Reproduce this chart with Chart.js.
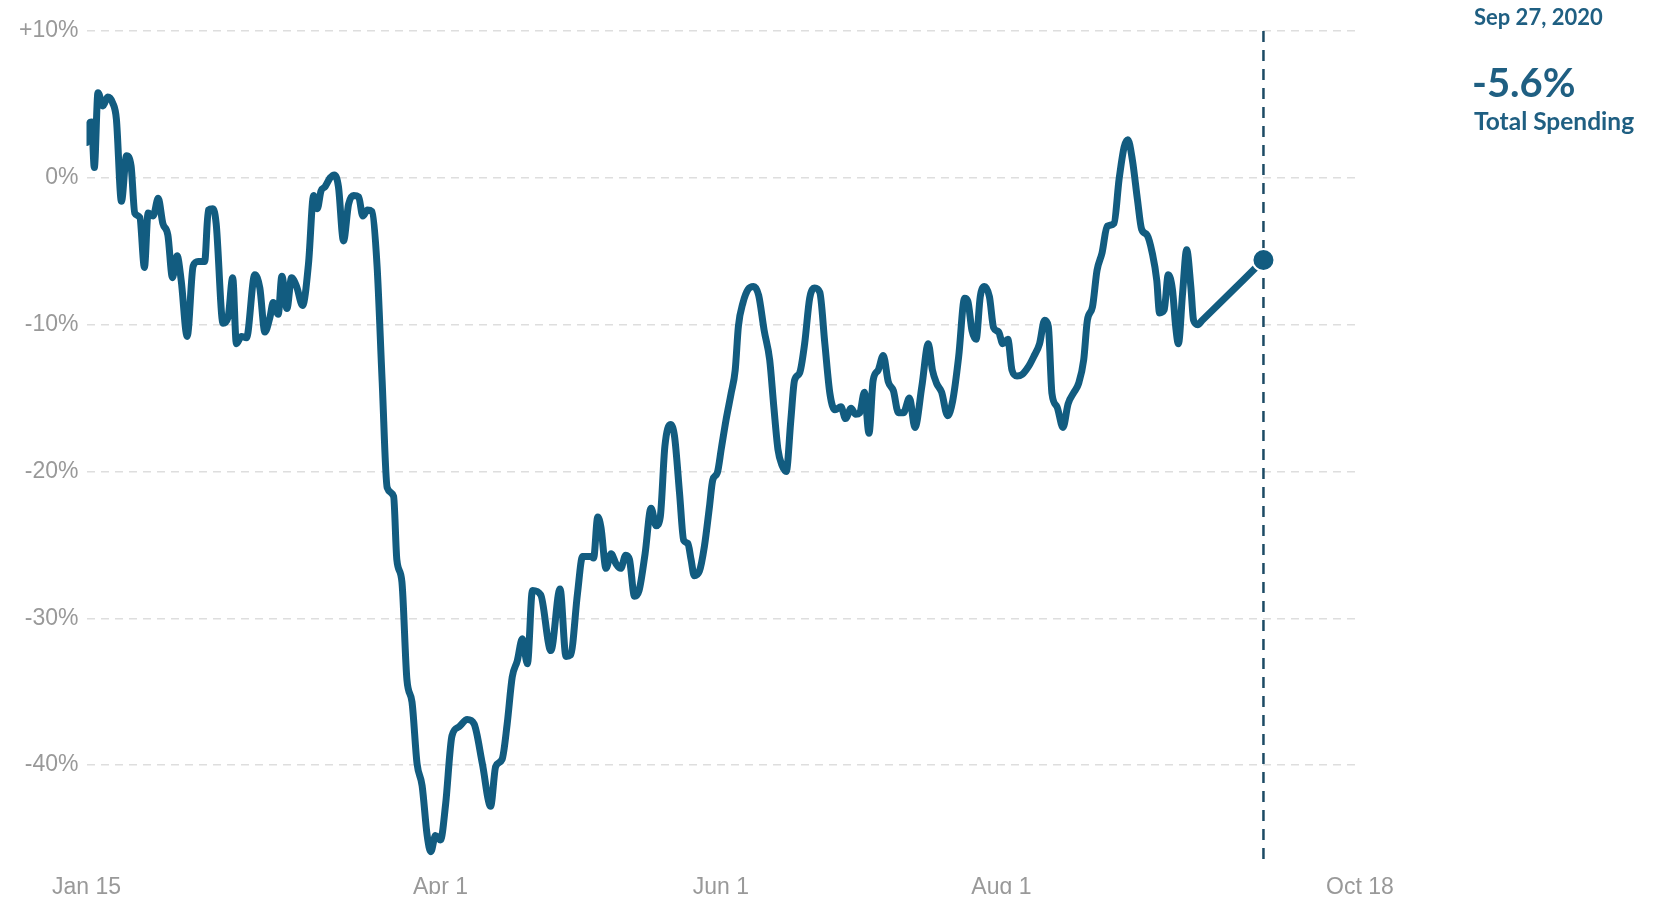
<!DOCTYPE html>
<html>
<head>
<meta charset="utf-8">
<script src="https://cdn.jsdelivr.net/npm/chart.js@4/dist/chart.umd.min.js"></script>
<style>
html,body{margin:0;padding:0;background:#fff;}
#wrap{position:relative;width:1658px;height:900px;overflow:hidden;background:#fff;}
#clip{position:absolute;left:0;top:0;width:1658px;height:894px;overflow:hidden;}
#clip canvas{position:absolute;left:0;top:0;}
#ann{position:absolute;left:0;top:0;pointer-events:none;}
</style>
</head>
<body>
<div id="wrap">
<div id="clip"><canvas id="c" width="1658" height="900"></canvas></div>
<svg id="ann" width="1658" height="900" xmlns="http://www.w3.org/2000/svg">
  <text id="tDate" x="1474" y="25" font-family="Lato" font-weight="700" font-size="22" fill="#1f5f82"></text>
  <text id="tValue" x="1472" y="97" font-family="Lato" font-weight="700" font-size="40" fill="#1f5f82"></text>
  <text id="tLabel" x="1474" y="130" font-family="Lato" font-weight="700" font-size="24.5" fill="#1f5f82"></text>
</svg>
</div>
<script>
// Days since Jan 15, 2020
const days = [
  0, 0.6, 1.1, 1.7, 2.5, 3.6, 4.6, 5.7, 6.5, 7.6, 8.7, 9.7, 10.5, 11.6, 12.6, 13.4, 14.5, 15.6, 16.6, 17.7,
  18.7, 19.7, 20.6, 21.9, 23.2, 24.3, 25.7, 26.5, 27.5, 28.2, 29.7, 30.8, 31.8, 32.6, 33.7, 34.8, 36.6, 37.7, 38.8, 39.9,
  40.6, 41.7, 42.5, 43.6, 44.6, 45.7, 47.0, 48.3, 49.4, 50.2, 51.0, 51.9, 53.0, 53.9, 54.8, 55.9, 57.0, 58.1, 59.2, 60.1,
  61.1, 62.1, 63.2, 64.3, 65.4, 66.8, 67.5, 68.6, 69.7, 70.8, 71.9, 73.0, 74.1, 74.9, 75.9, 77.0, 78.1, 79.5, 81.0, 82.8,
  84.3, 86.1, 87.9, 89.0, 90.4, 91.5, 92.6, 93.7, 94.8, 95.9, 97.0, 98.8, 101.0, 103.0, 104.3, 105.3, 106.8, 107.9, 109.7, 110.3,
  111.2, 111.9, 113.0, 114.1, 115.2, 116.2, 117.3, 118.1, 119.2, 120.2, 121.5, 122.8, 123.9, 124.8, 125.8, 127.0, 127.9, 129.0, 129.9, 130.8,
  131.5, 132.2, 133.3, 134.4, 135.5, 136.2, 137.2, 138.1, 139.1, 140.2, 141.1, 141.8, 142.8, 143.9, 145.1, 146.2, 147.4, 148.6, 149.5, 150.4,
  151.3, 152.2, 153.2, 154.0, 155.1, 156.2, 157.3, 158.4, 159.5, 160.6, 161.7, 162.8, 164.1, 165.1, 166.3, 167.3, 168.2, 169.2, 170.2, 171.1,
  172.2, 173.3, 174.4, 175.5, 176.6, 177.7, 179.0, 180.2, 181.7, 183.1, 184.0, 184.9, 186.0, 187.3, 188.4, 189.7, 191.0, 191.7, 192.6, 193.5,
  194.4, 195.3, 196.4, 197.3, 198.4, 199.3, 200.4, 201.3, 202.4, 203.5, 204.8, 206.0, 207.3, 208.4, 209.2, 210.0, 211.1, 212.4, 213.5, 214.8,
  215.8, 216.9, 217.7, 218.8, 219.8, 220.9, 222.0, 223.5, 224.6, 225.7, 226.5, 227.5, 228.6, 229.5, 230.7, 231.8, 232.8, 233.4, 234.4, 235.3,
  236.2, 236.9, 237.5, 238.4, 239.3, 240.2, 240.8, 241.7, 242.7, 256
];
// Total spending, % change
const spending = [
  2.4, 3.7, 3.8, 0.7, 5.8, 4.9, 5.5, 5.1, 4.0, -1.6, 1.5, 0.8, -2.4, -2.7, -6.1, -2.4, -2.6, -1.4, -3.1, -3.9,
  -6.8, -5.3, -7.0, -10.8, -6.0, -5.7, -5.7, -2.2, -2.1, -3.1, -9.9, -9.5, -6.8, -11.3, -10.8, -10.9, -6.6, -7.5, -10.5, -9.5,
  -8.5, -9.3, -6.7, -8.9, -6.8, -7.4, -8.7, -5.8, -1.2, -2.1, -0.9, -0.6, 0.0, 0.2, -0.6, -4.3, -1.8, -1.2, -1.3, -2.6,
  -2.2, -2.3, -6.0, -13.8, -21.1, -21.7, -26.0, -27.5, -34.2, -35.7, -39.9, -41.4, -44.8, -45.9, -44.8, -45.1, -42.7, -38.0, -37.4, -36.9,
  -37.2, -39.9, -42.8, -40.1, -39.6, -37.2, -34.0, -32.9, -31.4, -33.1, -28.1, -28.4, -32.2, -28.0, -32.6, -32.5, -28.3, -25.8, -25.8, -25.9,
  -23.1, -23.8, -26.6, -25.6, -26.3, -26.6, -25.7, -26.0, -28.5, -28.1, -25.6, -22.5, -23.7, -23.1, -18.3, -16.8, -17.6, -21.5, -24.7, -24.9,
  -26.0, -27.1, -26.8, -25.1, -22.4, -20.6, -20.1, -18.4, -16.5, -14.7, -13.1, -10.1, -8.5, -7.6, -7.4, -8.0, -10.4, -12.4, -15.6, -18.5,
  -19.6, -20.0, -16.5, -13.8, -13.3, -11.3, -8.2, -7.5, -7.8, -11.3, -14.7, -15.8, -15.6, -16.4, -15.7, -16.1, -16.0, -14.6, -17.4, -13.8,
  -13.1, -12.1, -13.9, -14.5, -16.0, -16.0, -15.0, -17.0, -14.2, -11.3, -13.1, -14.0, -14.6, -16.2, -15.2, -12.2, -8.2, -8.4, -10.4, -11.0,
  -8.1, -7.4, -8.1, -10.2, -10.5, -11.3, -11.0, -13.1, -13.5, -13.4, -12.9, -12.2, -11.3, -9.7, -10.1, -14.7, -15.6, -17.0, -15.4, -14.6,
  -14.0, -12.4, -9.7, -8.8, -6.3, -5.1, -3.3, -3.1, -0.1, 2.1, 2.6, 1.2, -1.5, -3.5, -3.9, -5.1, -7.0, -9.2, -9.0, -6.6,
  -7.6, -10.1, -11.3, -7.9, -4.9, -7.4, -9.7, -10.0, -9.7, -5.6
];
const xTickDays = [0, 77, 138, 199, 277];
const xTickLabels = ['Jan 15', 'Apr 1', 'Jun 1', 'Aug 1', 'Oct 18'];
const yTickValues = [10, 0, -10, -20, -30, -40];
const latestDate = 'Sep 27, 2020';
const seriesName = 'Total Spending';

const LINE = '#125c80';
const last = days.length - 1;
document.getElementById('tDate').textContent = latestDate;
document.getElementById('tValue').textContent = spending[last].toFixed(1) + '%';
document.getElementById('tLabel').textContent = seriesName;

const points = days.map((d, i) => ({x: d, y: spending[i]}));

const vline = {
  id: 'vline',
  beforeDatasetsDraw(chart) {
    const {ctx, chartArea, scales} = chart;
    const x = scales.x.getPixelForValue(days[last]);
    ctx.save();
    ctx.strokeStyle = '#1c4a64';
    ctx.lineWidth = 2.5;
    ctx.setLineDash([11, 8]);
    ctx.beginPath();
    ctx.moveTo(x, chartArea.top);
    ctx.lineTo(x, chartArea.bottom - 2);
    ctx.stroke();
    ctx.restore();
  }
};

const tickFont = {family: "'Liberation Sans', Arial, sans-serif", size: 23};

new Chart(document.getElementById('c'), {
  type: 'line',
  data: {
    datasets: [{
      data: points,
      borderColor: LINE,
      backgroundColor: LINE,
      borderWidth: 7,
      borderJoinStyle: 'round',
      borderCapStyle: 'round',
      cubicInterpolationMode: 'monotone',
      pointRadius: c => c.dataIndex === last ? 11 : 0,
      pointHoverRadius: c => c.dataIndex === last ? 11 : 0,
      pointBorderWidth: 2,
      pointBorderColor: '#ffffff',
      pointBackgroundColor: LINE,
      fill: false
    }]
  },
  options: {
    responsive: false,
    animation: false,
    events: [],
    layout: {padding: {top: 31, right: 298, left: 0, bottom: 0}},
    plugins: {legend: {display: false}, tooltip: {enabled: false}},
    scales: {
      x: {
        type: 'linear',
        min: 0,
        max: 277,
        grid: {display: false},
        border: {display: false},
        afterBuildTicks: s => { s.ticks = xTickDays.map(v => ({value: v})); },
        afterFit: s => { s.height = 38; },
        ticks: {
          autoSkip: false, maxRotation: 0, minRotation: 0, padding: 4,
          color: '#999', font: tickFont,
          callback: (v, i) => xTickLabels[i]
        }
      },
      y: {
        min: -46.6,
        max: 10,
        afterBuildTicks: s => { s.ticks = yTickValues.map(v => ({value: v})); },
        afterFit: s => { s.width = 86.5; },
        grid: {color: '#dedede', lineWidth: 1.5, drawTicks: false},
        border: {display: false, dash: [8, 6]},
        ticks: {
          padding: 8, color: '#999', font: tickFont,
          callback: v => (v > 0 ? '+' : '') + v + '%'
        }
      }
    }
  },
  plugins: [vline]
});
</script>
</body>
</html>
